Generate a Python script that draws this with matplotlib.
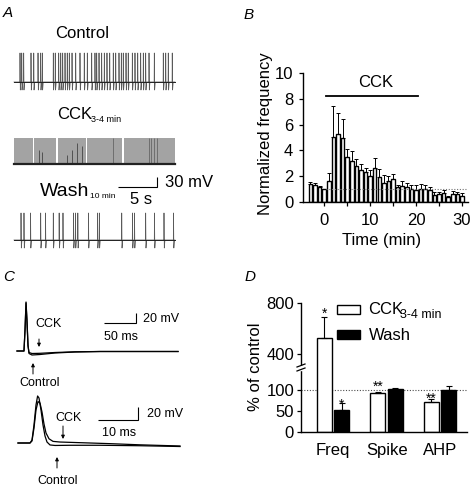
import numpy as np
import matplotlib
matplotlib.use('Agg')
import matplotlib.pyplot as plt
from matplotlib.patches import Rectangle, FancyArrowPatch
from matplotlib.lines import Line2D

plt.rcParams['font.family'] = ['Liberation Sans', 'DejaVu Sans']

W, H = 472, 488

# ---- panel A: spike times (s) ----
control_spikes = [0.77, 0.99, 1.24, 2.18, 2.53, 3.08, 3.42, 3.63, 5.04, 5.29, 5.73, 5.99,
                  6.24, 6.54, 6.83, 7.09, 7.44, 7.91, 8.46, 9.01, 9.40, 9.96, 10.38, 10.60,
                  10.90, 11.24, 11.58, 11.92, 12.27, 12.73, 13.04, 13.46, 13.76, 14.01, 14.36,
                  14.65, 15.17, 15.51, 15.86, 16.24, 16.58, 16.88, 17.31, 17.99, 19.14, 19.45,
                  19.78, 20.29]
wash_spikes = [0.90, 1.28, 2.12, 3.42, 4.04, 5.04, 5.79, 6.28, 7.63, 7.88, 8.18, 9.55,
               10.71, 10.94, 13.81, 15.19, 15.45, 16.88, 18.01, 19.23, 20.45]
cck_bursts = [(0.0, 2.38), (2.52, 5.43), (5.62, 9.29), (9.35, 13.87), (14.04, 20.64)]
cck_partial_t = [3.24, 3.55, 6.84, 7.40, 8.04, 8.68]
cck_partial_top = [-18, -24, -33, -18, 3, -6]
cck_dark_t = [12.7, 17.3, 17.6, 18.0, 18.3]
trace_len = 20.64

# ---- panel B ----
time_min = list(range(-3, 31))
norm_freq = [1.37, 1.32, 1.19, 1.0, 1.63, 5.06, 5.24, 4.99, 3.46, 3.2, 2.79, 2.48, 2.35,
             2.04, 2.61, 1.91, 1.5, 1.65, 1.75, 1.15, 1.25, 1.15, 1.0, 0.95, 1.0, 1.0,
             0.9, 0.55, 0.65, 0.7, 0.4, 0.6, 0.6, 0.5]
norm_freq_err = [0.2, 0.18, 0.05, 0.02, 0.59, 2.41, 1.63, 1.46, 0.64, 0.75, 0.51, 0.47,
                 0.25, 0.44, 0.78, 0.65, 0.6, 0.4, 0.4, 0.15, 0.35, 0.35, 0.3, 0.35, 0.4,
                 0.3, 0.25, 0.25, 0.15, 0.2, 0.1, 0.25, 0.2, 0.2]
cck_period = (0.5, 20.5)

# ---- panel C: waveform key points (ms, mV) ----
c1_t_ctrl = [0, 10.9, 12.5, 14.1, 15.6, 17.2, 18.75, 23.4, 35.9, 59.4, 90.6, 129.7, 251.6]
c1_v_ctrl = [-60, -60, -18, 38, 2, -48, -65, -68, -67, -64, -62, -61, -61]
c1_t_cck = [0, 10.9, 12.5, 14.1, 15.6, 17.2, 18.75, 23.4, 35.9, 59.4, 90.6, 129.7, 251.6]
c1_v_cck = [-60, -60, -20, 36, -2, -50, -63, -65, -64.6, -63, -61.6, -61, -61]
c2_t_ctrl = [0, 3.0, 3.5, 4.0, 4.5, 4.9, 5.25, 5.75, 6.25, 6.75, 7.25, 8.0, 9.25, 13, 20.5, 30.5, 40.5]
c2_v_ctrl = [-60, -60, -55.4, -32.3, -1.5, 12.3, 9.2, -9.2, -32.3, -49.2, -58.5, -63.0, -63.8,
             -63.5, -63.5, -64.2, -65.4]
c2_t_cck = [0, 3.0, 3.5, 4.0, 4.5, 5.0, 5.5, 6.0, 6.5, 7.0, 7.75, 8.75, 10.5, 15.5, 23, 30.5, 40.5]
c2_v_cck = [-60, -60, -56.9, -36.9, -9.2, 3.8, 1.5, -12.3, -30.8, -44.6, -53.5, -57.5, -58.5,
            -59.5, -61.0, -62.8, -64.6]

# ---- panel D ----
groups = ['Freq', 'Spike', 'AHP']
cck_pct = [525, 93, 71]
cck_err = [162, 3, 7]
wash_pct = [52, 103, 101]
wash_err = [18, 2, 8]
cck_stars = ['*', '**', '**']
wash_stars = ['*', '', '']

fig = plt.figure(figsize=(W / 100, H / 100), dpi=100)


def fxy(px, py):
    return px / W, 1 - py / H


def px_axes(x0, y0, x1, y1):
    return fig.add_axes([x0 / W, 1 - y1 / H, (x1 - x0) / W, (y1 - y0) / H])


def trace_axes(x0, y0, x1, y1, t0_px, px_per_t, base_px, px_per_mv, base_mv=-60):
    ax = px_axes(x0, y0, x1, y1)
    ax.set_xlim((x0 - t0_px) / px_per_t, (x1 - t0_px) / px_per_t)
    ax.set_ylim(base_mv - (y1 - base_px) / px_per_mv, base_mv + (base_px - y0) / px_per_mv)
    ax.axis('off')
    return ax


def spike_train(times, t_end, base, peak, ahp):
    t, v = [0.0], [base]
    for s in times:
        t += [s - 0.02, s, s + 0.04, s + 0.12]
        v += [base, peak, ahp, base]
    t.append(t_end)
    v.append(base)
    return t, v


def scale_bar(ax, x_end, y0, dx, dy):
    ax.plot([x_end - dx, x_end, x_end], [y0, y0, y0 + dy], color='k', lw=0.8,
            solid_capstyle='butt', solid_joinstyle='miter')


def label(px, py, s, size=12, **kw):
    kw.setdefault('va', 'baseline')
    kw.setdefault('ha', 'left')
    fig.text(*fxy(px, py), s, fontsize=size, **kw)


def arrow(px, py0, py1):
    fig.add_artist(FancyArrowPatch(fxy(px, py0), fxy(px, py1), transform=fig.transFigure,
                                   arrowstyle='-|>', mutation_scale=5, lw=0.7, color='k',
                                   shrinkA=0, shrinkB=0))


# ---------------- A ----------------
trace_col = '#5a5a5a'
axA1 = trace_axes(10, 45, 182, 95, 14, 7.8, 82, 1 / 3)
t, v = spike_train(control_spikes, trace_len, -60, 27, -84)
axA1.plot(t, v, color=trace_col, lw=0.55)
axA1.plot([0, trace_len], [-60, -60], color='#222222', lw=0.7)

axA2 = trace_axes(10, 128, 182, 172, 14, 7.8, 164, 1 / 3)
for a, b in cck_bursts:
    axA2.fill_between([a, b], -60, 18, color='#a3a3a3', lw=0)
axA2.vlines(cck_partial_t, -60, cck_partial_top, color='#444444', lw=0.6)
axA2.vlines(cck_dark_t, -60, 18, color='#666666', lw=0.6)
axA2.plot([0, trace_len], [-60, -60], color='#222222', lw=1.6)

axA3 = trace_axes(10, 170, 182, 253, 14, 7.8, 240, 1 / 3)
t, v = spike_train(wash_spikes, trace_len, -60, 21, -84)
axA3.plot(t, v, color=trace_col, lw=0.55)
axA3.plot([0, trace_len], [-60, -60], color='#222222', lw=0.7)
scale_bar(axA3, 18.33, 99, 5, 30)

label(2.7, 17.3, 'A', size=11, style='italic')
label(55, 37.7, 'Control')
label(56.7, 119.3, 'CCK')
label(90.7, 121.7, '3-4 min', size=6.5)
label(40, 196, 'Wash', size=14)
label(90.5, 198.3, '10 min', size=6)
label(165, 186.7, '30 mV')
label(130, 204, '5 s')

# ---------------- B ----------------
axB = px_axes(303, 73, 468, 202)
axB.bar(time_min, norm_freq, width=0.78, color='white', edgecolor='k', lw=1.0, zorder=2)
axB.errorbar(time_min, norm_freq, yerr=[np.zeros(len(norm_freq)), norm_freq_err], fmt='none',
             ecolor='k', elinewidth=0.7, capsize=1.2, capthick=0.7, zorder=3)
axB.hlines(1, cck_period[0], 31.3, colors='0.45', linestyles=(0, (1, 1.5)), lw=0.8, zorder=4)
axB.plot(cck_period, [8.2, 8.2], color='k', lw=1.3, clip_on=False)
axB.set_xlim(-4.6, 31.3)
axB.set_ylim(0, 10)
axB.set_yticks([0, 2, 4, 6, 8, 10])
axB.set_xticks([0, 10, 20, 30])
axB.set_xticks([5, 15, 25], minor=True)
for s in ['top', 'right']:
    axB.spines[s].set_visible(False)
for s in ['left', 'bottom']:
    axB.spines[s].set_linewidth(1.0)
axB.tick_params(which='both', direction='out', length=3, width=0.9, labelsize=12)
axB.tick_params(axis='y', pad=4)
axB.tick_params(axis='x', pad=5)
label(243.3, 19.3, 'B', size=11, style='italic')
label(376, 87.3, 'CCK', ha='center')
label(265.5, 133.5, 'Normalized frequency', rotation=90, ha='center', va='center')
label(382, 245, 'Time (min)', ha='center')

# ---------------- C ----------------
axC1 = trace_axes(10, 290, 200, 372, 17, 0.64, 351, 0.5)
axC1.plot(c1_t_cck, c1_v_cck, color='k', lw=0.9)
axC1.plot(c1_t_ctrl, c1_v_ctrl, color='k', lw=0.9)
scale_bar(axC1, 185.9, -4, 50, 20)

axC2 = trace_axes(10, 385, 200, 455, 18, 4, 443, 0.65)
axC2.plot(c2_t_cck, c2_v_cck, color='k', lw=0.9)
axC2.plot(c2_t_ctrl, c2_v_ctrl, color='k', lw=0.9)
scale_bar(axC2, 30, -24.6, 10, 20)

label(2.7, 281, 'C', size=11, style='italic')
label(35, 327.3, 'CCK', size=9)
label(19, 385.7, 'Control', size=9)
label(143.3, 321.7, '20 mV', size=9)
label(104, 340, '50 ms', size=9)
arrow(39, 339, 347)
arrow(33, 374, 363)
label(55, 421, 'CCK', size=9)
label(37.7, 484.3, 'Control', size=9)
label(146.7, 416.7, '20 mV', size=9)
label(101.7, 436, '10 ms', size=9)
arrow(63, 426, 439)
arrow(57, 468, 457)


# ---------------- D ----------------
def fwd(y):
    y = np.asarray(y, float)
    return np.where(y <= 155, 0.42 * y,
                    np.where(y < 300, 65.1 + (y - 155) * 0.2 / 145, 65.3 + 0.1275 * (y - 300)))


def inv(p):
    p = np.asarray(p, float)
    return np.where(p <= 65.1, p / 0.42,
                    np.where(p < 65.3, 155 + (p - 65.1) * 145 / 0.2, 300 + (p - 65.3) / 0.1275))


axD = px_axes(301, 303, 467, 432)
axD.set_yscale('function', functions=(fwd, inv))
x = np.arange(len(groups))
off, bw = 0.164, 0.28
axD.bar(x - off, cck_pct, bw, color='white', edgecolor='k', lw=1.0, zorder=2)
axD.bar(x + off, wash_pct, bw, color='k', edgecolor='k', lw=1.0, zorder=2)
axD.errorbar(x - off, cck_pct, yerr=[np.zeros(3), cck_err], fmt='none', ecolor='k',
             elinewidth=0.8, capsize=2.5, capthick=0.8, zorder=3)
axD.errorbar(x + off, wash_pct, yerr=[np.zeros(3), wash_err], fmt='none', ecolor='k',
             elinewidth=0.8, capsize=2.5, capthick=0.8, zorder=1)
axD.hlines(100, -0.598, 2.5, colors='0.3', linestyles=(0, (1, 1.5)), lw=0.8, zorder=1)
# star offsets above the error-bar caps, in points (ink centre)
cck_star_dy = [5.5, 6.5, 3.5]
wash_star_dy = [1.5, 0, 0]
for i in range(len(groups)):
    axD.annotate(cck_stars[i], (x[i] - off, cck_pct[i] + cck_err[i]),
                 xytext=(0, cck_star_dy[i] - 3.2), textcoords='offset points',
                 ha='center', va='center', fontsize=10)
    if wash_stars[i]:
        axD.annotate(wash_stars[i], (x[i] + off, wash_pct[i] + wash_err[i]),
                     xytext=(0, wash_star_dy[i] - 3.2), textcoords='offset points',
                     ha='center', va='center', fontsize=10)
axD.set_xlim(-0.598, 2.5)
axD.set_ylim(0, 800)
axD.set_yticks([0, 50, 100, 400, 800])
axD.set_yticklabels(['0', '50', '100', '400', '800'])
axD.yaxis.set_minor_locator(plt.NullLocator())
axD.set_xticks(x)
axD.set_xticklabels(groups)
for s in ['top', 'right']:
    axD.spines[s].set_visible(False)
for s in ['left', 'bottom']:
    axD.spines[s].set_linewidth(1.0)
axD.tick_params(axis='y', direction='out', length=3, width=0.9, labelsize=12, pad=2)
axD.tick_params(axis='x', length=0, labelsize=12, pad=8)

# axis break on the y spine
fig.add_artist(Rectangle(fxy(299, 369.5), 4 / W, 4 / H, transform=fig.transFigure,
                         color='white', zorder=5))
for yb in (369.5, 365.5):
    fig.add_artist(Line2D([297 / W, 305 / W], [1 - (yb + 1.5) / H, 1 - (yb - 1.5) / H],
                          transform=fig.transFigure, color='k', lw=0.9, zorder=6))

# legend
fig.add_artist(Rectangle(fxy(337.3, 314), 22.7 / W, 9 / H, transform=fig.transFigure,
                         facecolor='white', edgecolor='k', lw=1.0))
fig.add_artist(Rectangle(fxy(337.3, 339), 22.7 / W, 9 / H, transform=fig.transFigure,
                         facecolor='k', edgecolor='k', lw=1.0))
label(368, 314, 'CCK')
label(400.5, 318.3, '3-4 min', size=9)
label(369, 340, 'Wash')

label(245, 281, 'D', size=11, style='italic')
label(255, 366.5, '% of control', rotation=90, ha='center', va='center')

fig.savefig('out.png', dpi=100)
